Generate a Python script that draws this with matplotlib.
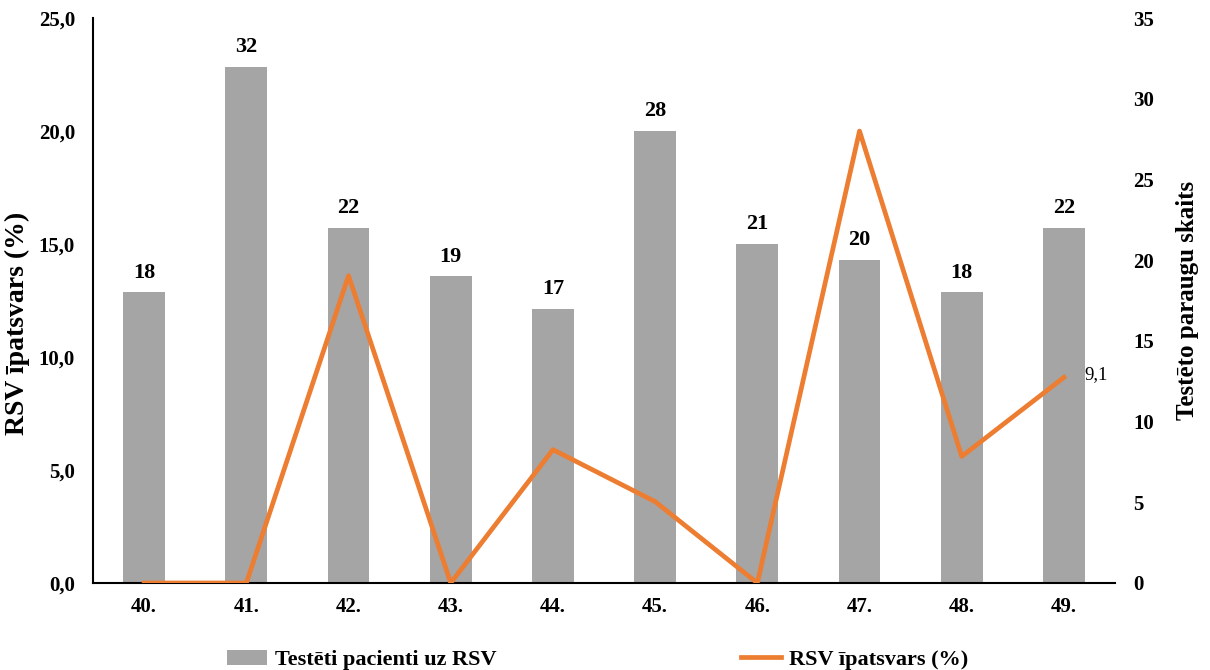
import numpy as np
import matplotlib.pyplot as plt

plt.rcParams['font.family'] = ['Liberation Serif', 'DejaVu Serif']
plt.rcParams['font.weight'] = 'bold'

weeks = ["40.", "41.", "42.", "43.", "44.", "45.", "46.", "47.", "48.", "49."]
tested = [18, 32, 22, 19, 17, 28, 21, 20, 18, 22]
rsv_share = [0.0, 0.0, 13.6, 0.0, 5.9, 3.6, 0.0, 20.0, 5.6, 9.1]

bar_color = "#A5A5A5"
line_color = "#ED7D31"

fig = plt.figure(figsize=(12.1, 6.7), dpi=100)
ax = fig.add_axes([0.0769, 0.1299, 0.8446, 0.8431])
ax2 = ax.twinx()

x = np.arange(len(weeks))

# bars on the right axis, line on the left axis (line drawn on top)
ax2.bar(x, tested, width=0.41, color=bar_color, label="Testēti pacienti uz RSV", zorder=1)
for xi, v in zip(x, tested):
    ax2.annotate(str(v), (xi, v), xytext=(0, 7), textcoords="offset points",
                 ha="center", va="bottom", fontsize=16, fontweight="bold")

ax.set_zorder(ax2.get_zorder() + 1)
ax.patch.set_visible(False)
ax.plot(x, rsv_share, color=line_color, lw=3.4, label="RSV īpatsvars (%)", zorder=3)
ax.text(x[-1] + 0.2, rsv_share[-1] + 0.1, "9,1", ha="left", va="center", fontsize=13.5, fontweight="normal")

ax.set_xlim(-0.5, 9.5)
ax.set_ylim(0, 25)
ax2.set_ylim(0, 35)
ax.set_yticks(np.arange(0, 26, 5))
ax.set_yticklabels([f"{v:.1f}".replace(".", ",") for v in np.arange(0, 26, 5)])
ax2.set_yticks(np.arange(0, 36, 5))
ax.set_xticks(x)
ax.set_xticklabels(weeks)

for a in (ax, ax2):
    a.spines["top"].set_visible(False)
    a.spines["right"].set_visible(False)
ax2.spines["left"].set_visible(False)
ax2.spines["bottom"].set_visible(False)
ax.spines["left"].set_linewidth(1.5)
ax.spines["bottom"].set_linewidth(1.5)

ax.tick_params(axis="y", length=0, pad=13, labelsize=15)
ax.tick_params(axis="x", length=0, pad=10, labelsize=15)
ax2.tick_params(axis="y", length=0, pad=13, labelsize=15)

ax.set_ylabel("RSV īpatsvars (%)", fontsize=20, fontweight="bold")
ax.yaxis.set_label_coords(-0.062, 0.46)
ax2.set_ylabel("Testēto paraugu skaits", fontsize=18, fontweight="bold", labelpad=16)

h1, l1 = ax2.get_legend_handles_labels()
h2, l2 = ax.get_legend_handles_labels()
fig.legend(h1 + h2, l1 + l2, loc="lower center", bbox_to_anchor=(0.494, -0.03), ncol=2,
           frameon=False, fontsize=16, columnspacing=11, handlelength=1.8, handletextpad=0.35)

fig.savefig("out.png", dpi=100)
